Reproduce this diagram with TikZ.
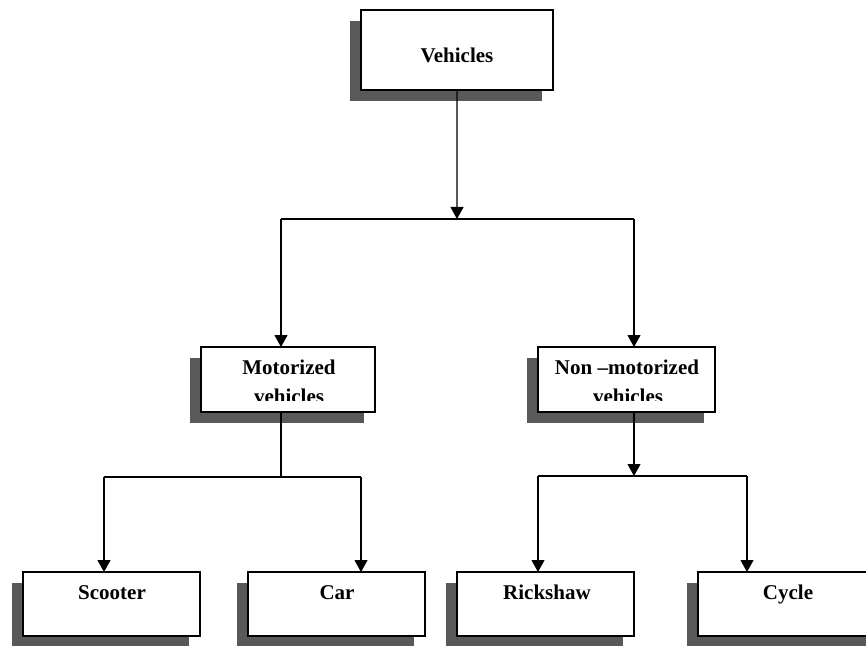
\documentclass[tikz,border=0pt]{standalone}
\usepackage{fontspec}
\setmainfont{Liberation Serif}
\usetikzlibrary{arrows.meta}
\definecolor{shadowgray}{HTML}{595959}

% shadowed box: name, left, top, right, bottom (y grows downward)
\newcommand\ShBox[5]{%
  \fill[shadowbox] (#2-11,#3+11) rectangle (#4-11,#5+11);
  \node[box, anchor=north west, minimum width=#4bp-#2bp, minimum height=#5bp-#3bp] (#1) at (#2,#3) {};
}

\begin{document}
\begin{tikzpicture}[x=1bp,y=-1bp,
  box/.style={draw=black, line width=1.4bp, fill=white, inner sep=0pt, outer sep=0pt},
  shadowbox/.style={fill=shadowgray},
  lbl/.style={font=\fontsize{21bp}{25bp}\selectfont\bfseries, inner sep=0pt, anchor=base},
  link/.style={line width=1.1bp},
  arr/.style={link, -{Triangle[width=13bp,length=12bp]}}]

\clip (0,0) rectangle (866,646);
\fill[white] (0,0) rectangle (866,646);

% boxes
\ShBox{veh}{361}{10}{553}{90}
\ShBox{mot}{201}{347}{375}{412}
\ShBox{non}{538}{347}{715}{412}
\ShBox{sco}{23}{572}{200}{636}
\ShBox{car}{248}{572}{425}{636}
\ShBox{ric}{457}{572}{634}{636}
\ShBox{cyc}{698}{572}{878}{636}

% labels
\node[lbl] (vehT) at (457,63) {Vehicles};
\begin{scope}
  \clip (190,340) rectangle (720,400);
  \node[lbl] (motT1) at (289,374) {Motorized};
  \node[lbl] (motT2) at (289,403) {vehicles};
  \node[lbl] (nonT1) at (627,374) {Non –motorized};
  \node[lbl] (nonT2) at (628,403) {vehicles};
\end{scope}
\node[lbl] (scoT) at (112,599) {Scooter};
\node[lbl] (carT) at (337,599) {Car};
\node[lbl] (ricT) at (547,599) {Rickshaw};
\node[lbl] (cycT) at (788,599) {Cycle};

% junction points
\coordinate (j1) at (457,219);
\coordinate (j1l) at (281,219);
\coordinate (j1r) at (634,219);
\coordinate (j2) at (281,477);
\coordinate (j2l) at (104,477);
\coordinate (j2r) at (361,477);
\coordinate (j3) at (634,476);
\coordinate (j3l) at (538,476);
\coordinate (j3r) at (747,476);

% connectors
\draw[arr] (veh.south) -- (j1);
\draw[link] (j1l) -- (j1r);
\draw[arr] (j1l) -- (j1l |- mot.north);
\draw[arr] (j1r) -- (j1r |- non.north);

\draw[link] (j2 |- mot.south) -- (j2);
\draw[link] (j2l) -- (j2r);
\draw[arr] (j2l) -- (j2l |- sco.north);
\draw[arr] (j2r) -- (j2r |- car.north);

\draw[arr] (j3 |- non.south) -- (j3);
\draw[link] (j3l) -- (j3r);
\draw[arr] (j3l) -- (j3l |- ric.north);
\draw[arr] (j3r) -- (j3r |- cyc.north);
\end{tikzpicture}
\end{document}
